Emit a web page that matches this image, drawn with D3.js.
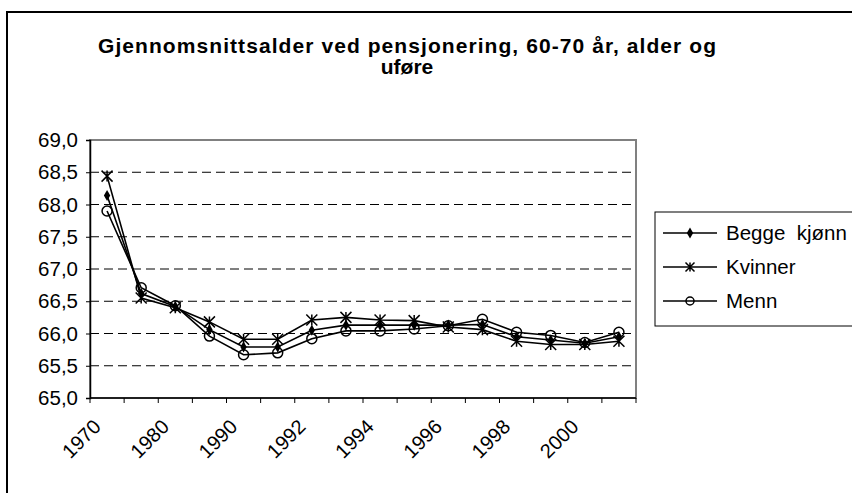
<!DOCTYPE html>
<html>
<head>
<meta charset="utf-8">
<script src="https://cdn.jsdelivr.net/npm/d3@7"></script>
<style>
  body { margin: 0; background: #fff; }
  svg { display: block; font-family: "Liberation Sans", Arial, sans-serif; }
</style>
</head>
<body>
<svg id="chart" width="852" height="493"></svg>
<script>
// Kategorier (år) og etiketter på x-aksen
const categories = ["1970", "1975", "1980", "1985", "1990", "1991", "1992", "1993",
                    "1994", "1995", "1996", "1997", "1998", "1999", "2000", "2001"];
const xTickLabels = ["1970", "1980", "1990", "1992", "1994", "1996", "1998", "2000"];
const yTicks = [65.0, 65.5, 66.0, 66.5, 67.0, 67.5, 68.0, 68.5, 69.0];

// Seriene
const beggeKjonn = [68.14, 66.62, 66.42, 66.06, 65.79, 65.79, 66.05, 66.13, 66.13, 66.13, 66.13, 66.14, 65.95, 65.90, 65.85, 65.95];
const kvinner    = [68.44, 66.55, 66.40, 66.18, 65.91, 65.91, 66.21, 66.25, 66.21, 66.20, 66.10, 66.06, 65.88, 65.83, 65.83, 65.88];
const menn       = [67.90, 66.71, 66.43, 65.96, 65.67, 65.70, 65.92, 66.04, 66.04, 66.07, 66.12, 66.22, 66.02, 65.97, 65.86, 66.02];

const series = [
  { name: "Begge  kjønn", values: beggeKjonn, marker: "diamond" },
  { name: "Kvinner", values: kvinner, marker: "star" },
  { name: "Menn", values: menn, marker: "circle" }
];

const svg = d3.select("#chart");

// Ytre ramme (høyre og nedre kant ligger utenfor bildet)
svg.append("rect")
  .attr("x", 7).attr("y", 12).attr("width", 852).attr("height", 490)
  .attr("fill", "none").attr("stroke", "#000").attr("stroke-width", 2);

// Plottområde
const plot = { left: 90, right: 636, top: 140, bottom: 398 };

const x = d3.scaleBand().domain(categories).range([plot.left, plot.right]);
const y = d3.scaleLinear().domain([65, 69]).range([plot.bottom, plot.top]);
const cx = d => x(d) + x.bandwidth() / 2;

// Tittel
const title = svg.append("text")
  .attr("text-anchor", "middle")
  .attr("font-weight", "bold")
  .attr("font-size", 21)
  .attr("fill", "#000");
title.append("tspan").attr("x", 407).attr("y", 53)
  .attr("textLength", 618).attr("lengthAdjust", "spacing")
  .text("Gjennomsnittsalder ved pensjonering, 60-70 år, alder og");
title.append("tspan").attr("x", 407).attr("y", 74).text("uføre");

// Rutenett (stiplet)
svg.append("g")
  .selectAll("line")
  .data(yTicks.slice(1, -1))
  .join("line")
  .attr("x1", plot.left).attr("x2", plot.right)
  .attr("y1", d => y(d)).attr("y2", d => y(d))
  .attr("stroke", "#000").attr("stroke-width", 1)
  .attr("stroke-dasharray", "9,5");

// Ramme rundt plottområdet
svg.append("rect")
  .attr("x", plot.left).attr("y", plot.top)
  .attr("width", plot.right - plot.left).attr("height", plot.bottom - plot.top)
  .attr("fill", "none").attr("stroke", "#808080").attr("stroke-width", 2);

// Y-akse
const yAxis = svg.append("g")
  .attr("transform", `translate(${plot.left},0)`)
  .call(d3.axisLeft(y).tickValues(yTicks).tickSize(4).tickPadding(8)
    .tickFormat(d => d3.format(".1f")(d).replace(".", ",")));
yAxis.select(".domain").attr("stroke", "#000").attr("stroke-width", 1.5);
yAxis.selectAll("text").attr("font-size", 20.5).attr("fill", "#000")
  .attr("font-family", "Liberation Sans, Arial, sans-serif");

// X-akse med streker mellom kategoriene
const xAxis = svg.append("g");
xAxis.append("line")
  .attr("x1", plot.left).attr("x2", plot.right)
  .attr("y1", plot.bottom).attr("y2", plot.bottom)
  .attr("stroke", "#000").attr("stroke-width", 1.5);
xAxis.selectAll(".tick")
  .data(categories.concat(["end"]))
  .join("line")
  .attr("class", "tick")
  .attr("x1", (d, i) => i < categories.length ? x(d) : plot.right)
  .attr("x2", (d, i) => i < categories.length ? x(d) : plot.right)
  .attr("y1", plot.bottom).attr("y2", plot.bottom + 5)
  .attr("stroke", "#000");

xAxis.selectAll("text")
  .data(xTickLabels)
  .join("text")
  .attr("text-anchor", "end")
  .attr("font-size", 20)
  .attr("transform", d => `translate(${cx(d) - 5},${plot.bottom + 30}) rotate(-45)`)
  .text(d => d);

// Linjer
const line = d3.line()
  .x((d, i) => cx(categories[i]))
  .y(d => y(d));

svg.append("g")
  .selectAll("path")
  .data(series)
  .join("path")
  .attr("d", d => line(d.values))
  .attr("fill", "none")
  .attr("stroke", "#000")
  .attr("stroke-width", 1.6);

// Markører
function drawMarker(g, type, size) {
  if (type === "diamond") {
    g.append("path")
      .attr("d", d3.symbol(d3.symbolDiamond, size * size * 0.55)())
      .attr("fill", "#000");
  } else if (type === "star") {
    const r = size / 2;
    g.append("path")
      .attr("d", `M${-r},${-r}L${r},${r}M${-r},${r}L${r},${-r}M0,${-r}L0,${r}`)
      .attr("stroke", "#000").attr("stroke-width", 1.5).attr("fill", "none");
  } else {
    g.append("circle").attr("r", size / 2 - 0.5)
      .attr("fill", "none").attr("stroke", "#000").attr("stroke-width", 1.5);
  }
}

series.forEach(s => {
  const markerSize = s.marker === "diamond" ? 8 : 11;
  svg.append("g")
    .selectAll("g")
    .data(s.values)
    .join("g")
    .attr("transform", (d, i) => `translate(${cx(categories[i])},${y(d)})`)
    .each(function () { drawMarker(d3.select(this), s.marker, markerSize); });
});

// Forklaring
const legend = svg.append("g");
legend.append("rect")
  .attr("x", 655).attr("y", 212).attr("width", 210).attr("height", 114)
  .attr("fill", "#fff").attr("stroke", "#000").attr("stroke-width", 1);

const legendY = d3.scalePoint().domain(series.map(s => s.name)).range([233, 301]);
series.forEach(s => {
  const g = legend.append("g").attr("transform", `translate(0,${legendY(s.name)})`);
  g.append("line").attr("x1", 663).attr("x2", 717)
    .attr("stroke", "#000").attr("stroke-width", 1.6);
  const m = g.append("g").attr("transform", "translate(690,0)");
  drawMarker(m, s.marker, s.marker === "diamond" ? 8 : 9);
  g.append("text").attr("x", 726).attr("y", 0).attr("dy", "0.35em")
    .attr("font-size", 20.5).attr("fill", "#000")
    .style("white-space", "pre")
    .text(s.name);
});
</script>
</body>
</html>
